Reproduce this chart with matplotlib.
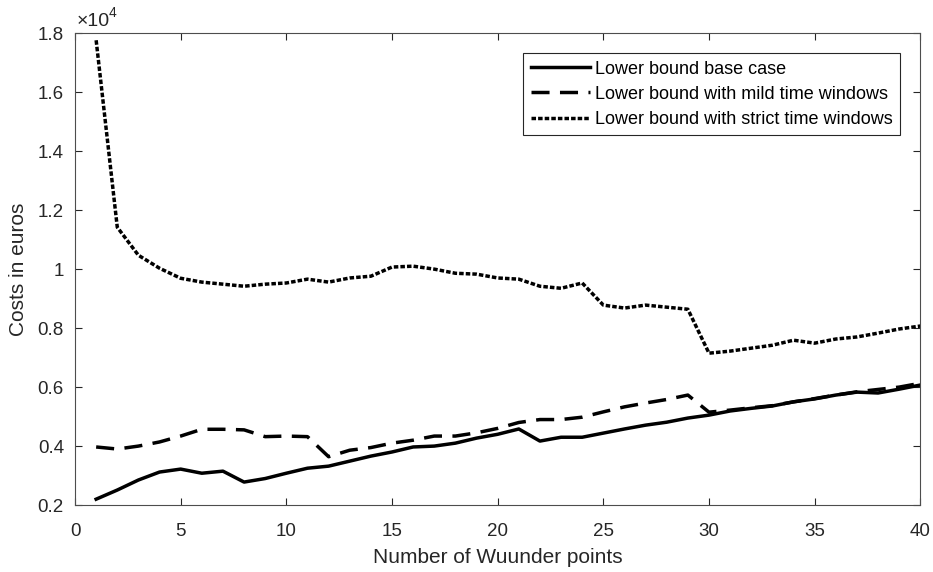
import matplotlib
matplotlib.use("Agg")
import matplotlib.pyplot as plt

# number of Wuunder points
points = list(range(1, 41))

# lower bound costs in euros
base_case = [2200, 2510, 2850, 3120, 3220, 3080, 3150, 2780, 2900, 3080,
             3250, 3320, 3490, 3660, 3800, 3970, 4000, 4100, 4270, 4400,
             4580, 4170, 4300, 4300, 4440, 4580, 4710, 4810, 4950, 5050,
             5190, 5280, 5360, 5500, 5600, 5730, 5830, 5800, 5930, 6070]
mild_tw = [3970, 3900, 4000, 4140, 4340, 4570, 4570, 4550, 4320, 4340,
           4320, 3640, 3860, 3950, 4100, 4200, 4340, 4340, 4450, 4600,
           4800, 4900, 4900, 4980, 5160, 5330, 5460, 5580, 5730, 5150,
           5220, 5300, 5370, 5500, 5610, 5730, 5840, 5920, 6000, 6130]
strict_tw = [17760, 11420, 10470, 10030, 9690, 9560, 9490, 9420, 9490, 9530,
             9660, 9560, 9700, 9760, 10070, 10100, 10000, 9860, 9830, 9700,
             9660, 9420, 9350, 9530, 8780, 8680, 8780, 8710, 8640, 7150,
             7220, 7320, 7420, 7590, 7490, 7630, 7700, 7830, 7970, 8070]

labels = ["Lower bound base case",
          "Lower bound with mild time windows",
          "Lower bound with strict time windows"]

y_ticks = [2000, 4000, 6000, 8000, 10000, 12000, 14000, 16000, 18000]

plt.rcParams['font.family'] = ['Liberation Sans', 'DejaVu Sans']
axis_grey = '#262626'

fig = plt.figure(figsize=(9.33, 5.72), dpi=100)
ax = fig.add_axes([0.0804, 0.117, 0.906, 0.825])

ax.plot(points, base_case, color='black', lw=2.5, label=labels[0])
ax.plot(points, mild_tw, color='black', lw=2.5, dashes=(5.2, 3.0), label=labels[1])
ax.plot(points, strict_tw, color='black', lw=2.5, dashes=(1.3, 0.6), label=labels[2])

ax.set_xlim(0, 40)
ax.set_ylim(2000, 18000)
ax.set_xticks(range(0, 41, 5))
ax.set_yticks(y_ticks)
ax.set_yticklabels(['%g' % (v / 1e4) for v in y_ticks])

ax.tick_params(direction='in', length=5, width=0.8, top=True, right=True,
               colors=axis_grey, labelsize=13.5)
ax.tick_params(axis='x', pad=13)
ax.tick_params(axis='y', pad=8)
for s in ax.spines.values():
    s.set_color('#4d4d4d')
    s.set_linewidth(0.8)

# MATLAB-style exponent label above the y axis
ax.annotate('\u00d710', xy=(0, 1), xycoords='axes fraction', xytext=(2, 3),
            textcoords='offset pixels', fontsize=14, color=axis_grey,
            ha='left', va='bottom')
ax.annotate('4', xy=(0, 1), xycoords='axes fraction', xytext=(34, 13),
            textcoords='offset pixels', fontsize=10, color=axis_grey,
            ha='left', va='bottom')

ax.set_xlabel('Number of Wuunder points', fontsize=15, color=axis_grey, labelpad=6)
ax.set_ylabel('Costs in euros', fontsize=15, color=axis_grey, labelpad=7)

leg = ax.legend(loc='upper right', bbox_to_anchor=(0.976, 0.958), fontsize=13,
                handlelength=3.3, handletextpad=0.25, borderpad=0.42,
                labelspacing=0.45, fancybox=False, framealpha=1,
                borderaxespad=0)
leg.get_frame().set_edgecolor('#262626')
leg.get_frame().set_linewidth(0.8)

plt.savefig("out.png", dpi=100)
